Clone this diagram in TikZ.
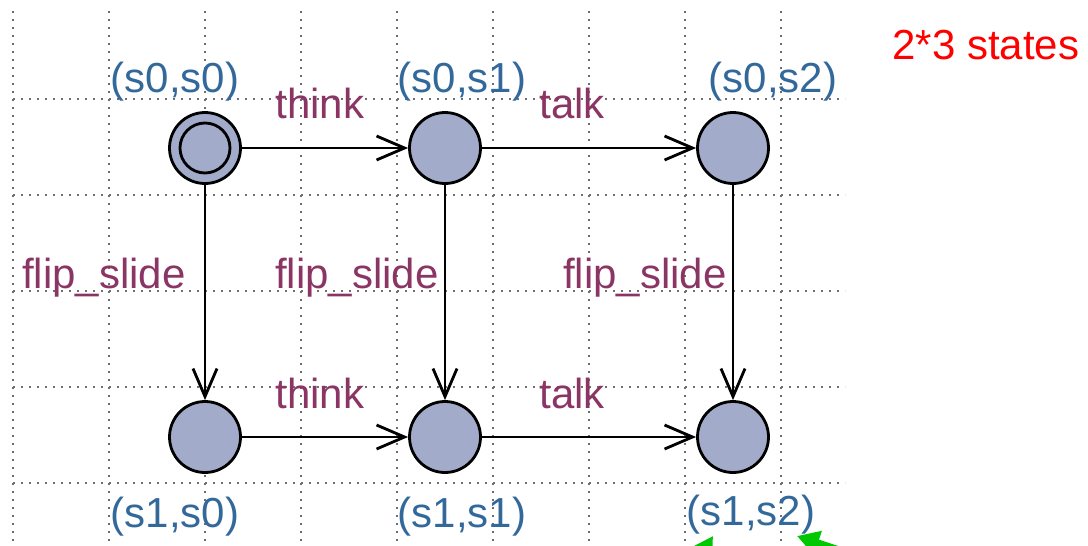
\documentclass[tikz,border=0pt]{standalone}
\usepackage{fontspec}
\setmainfont{Liberation Sans}
\usetikzlibrary{arrows.meta}
\definecolor{statefill}{HTML}{A3ABCB}
\definecolor{namecol}{HTML}{33699A}
\definecolor{labelcol}{HTML}{8B3565}
\definecolor{gridcol}{HTML}{6E6E6E}
\definecolor{notecol}{HTML}{FF0000}
\definecolor{pointcol}{HTML}{00C800}
\tikzset{
  state/.style = {circle, draw = black, fill = statefill, line width = 2.8pt,
    minimum size = 71pt, inner sep = 0pt},
  locname/.style = {text = namecol, inner sep = 0pt, anchor = center},
  edgelabel/.style = {text = labelcol, inner sep = 0pt, anchor = center},
  trans/.style = {line width = 2.8pt, -{Straight Barb[length=28pt,width=24pt,line width=2.8pt]}},
  gridline/.style = {gridcol, line width = 1.8pt, dash pattern = on 1.8pt off 6.2pt},
  pointer/.style = {pointcol, line width = 7pt, -{Triangle[length=22pt,width=24pt]}}
}
\begin{document}
\begin{tikzpicture}[x = 1pt, y = -1pt, font = \fontsize{42}{48}\selectfont]
\useasboundingbox (0,0) rectangle (1088,546);
\fill[white] (0,0) rectangle (1088,546);

% background grid
\foreach \gx in {13,109,...,781}
  \draw[gridline] (\gx,11) -- (\gx,546);
\foreach \gy in {99,195,...,483}
  \draw[gridline] (13,\gy) -- (845,\gy);

% locations
\node[state] (s00) at (205,148) {};
\draw[line width = 2.8pt] (s00.center) circle (25pt);
\node[state] (s01) at (445,148) {};
\node[state] (s02) at (733,148) {};
\node[state] (s10) at (205,437) {};
\node[state] (s11) at (445,437) {};
\node[state] (s12) at (733,437) {};

\node[locname] (l00) at (175,82) {(s0,s0)};
\node[locname] (l01) at (462,82) {(s0,s1)};
\node[locname] (l02) at (773,82) {(s0,s2)};
\node[locname] (l10) at (175,517) {(s1,s0)};
\node[locname] (l11) at (462,517) {(s1,s1)};
\node[locname] (l12) at (751,515) {(s1,s2)};

% transitions
\draw[trans] (s00) -- (s01);
\draw[trans] (s01) -- (s02);
\draw[trans] (s10) -- (s11);
\draw[trans] (s11) -- (s12);
\draw[trans] (s00) -- (s10);
\draw[trans] (s01) -- (s11);
\draw[trans] (s02) -- (s12);

\node[edgelabel] (t1) at (320,103) {think};
\node[edgelabel] (t2) at (572,103) {talk};
\node[edgelabel] (t3) at (320,393) {think};
\node[edgelabel] (t4) at (572,393) {talk};
\node[edgelabel] (f1) at (104,278) {flip\_slide};
\node[edgelabel] (f2) at (357,278) {flip\_slide};
\node[edgelabel] (f3) at (645,278) {flip\_slide};

\node[text = notecol, inner sep = 0pt] (note) at (986,45) {2*3 states};

% green pointers, cut at the lower edge
\coordinate (p1) at (678,592);
\coordinate (q1) at (713,536);
\coordinate (p2) at (905,572);
\coordinate (q2) at (797,536);
\begin{scope}
\clip (0,0) rectangle (1088,546);
\draw[pointer] (p1) -- (q1);
\draw[pointer] (p2) -- (q2);
\end{scope}
\end{tikzpicture}
\end{document}
